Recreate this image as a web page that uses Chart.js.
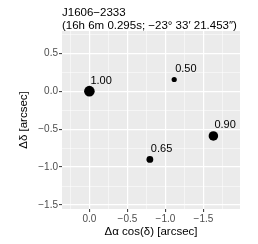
<!DOCTYPE html>
<html>
<head>
<meta charset="utf-8">
<script src="https://cdn.jsdelivr.net/npm/chart.js@4/dist/chart.umd.min.js"></script>
<style>
  html, body { margin: 0; padding: 0; background: #fff; }
  #wrap { width: 258px; height: 244px; }
</style>
</head>
<body>
<div id="wrap"><canvas id="posChart" width="258" height="244"></canvas></div>
<script>
// ---------- data ----------
const titleLines = ["J1606\u22122333", "(16h 6m 0.295s; \u221223\u00b0 33\u2032 21.453\u2033)"];
const dRA = [0, -1.115, -1.63, -0.795];      // delta alpha cos(delta) [arcsec]
const dDec = [0, 0.154, -0.59, -0.90];       // delta delta [arcsec]
const flux = [1.00, 0.50, 0.90, 0.65];       // relative brightness, also the labels
const xTicks = [0, -0.5, -1, -1.5];
const yTicks = [0.5, 0, -0.5, -1, -1.5];
const xMinor = [0.25, -0.25, -0.75, -1.25, -1.75];
const yMinor = [0.75, 0.25, -0.25, -0.75, -1.25];

const FONT = "'Liberation Sans', Arial, sans-serif";
const fmt = v => v.toFixed(1).replace("-", "\u2212");
const isMajor = (list, v) => list.some(t => Math.abs(t - v) < 1e-9);

// grey panel behind the grid
const panelBg = {
    id: "panelBg",
    beforeDraw(chart) {
        const { ctx, chartArea: a } = chart;
        ctx.save();
        ctx.fillStyle = "#EBEBEB";
        ctx.fillRect(a.left, a.top, a.right - a.left, a.bottom - a.top);
        ctx.restore();
    }
};

// two-line title, left aligned on the panel
const topTitle = {
    id: "topTitle",
    afterDraw(chart) {
        const { ctx, chartArea: a } = chart;
        ctx.save();
        ctx.fillStyle = "#000";
        ctx.font = "11.5px " + FONT;
        ctx.textAlign = "left";
        ctx.textBaseline = "alphabetic";
        ctx.fillText(titleLines[0], a.left, 15.5);
        ctx.fillText(titleLines[1], a.left, 29);
        ctx.restore();
    }
};

// value labels next to each point
const pointLabels = {
    id: "pointLabels",
    afterDatasetsDraw(chart) {
        const { ctx } = chart;
        const meta = chart.getDatasetMeta(0);
        ctx.save();
        ctx.fillStyle = "#000";
        ctx.font = "11px " + FONT;
        ctx.textAlign = "left";
        ctx.textBaseline = "middle";
        meta.data.forEach((pt, i) => {
            ctx.fillText(flux[i].toFixed(2), pt.x + 1, pt.y - 10.5);
        });
        ctx.restore();
    }
};

const gridOpts = (major) => ({
    color: c => isMajor(major, c.tick.value) ? "#FFFFFF" : "rgba(255,255,255,0.85)",
    lineWidth: c => isMajor(major, c.tick.value) ? 1.2 : 0.6,
    tickColor: c => isMajor(major, c.tick.value) ? "#333333" : "rgba(0,0,0,0)",
    tickLength: 3,
    tickWidth: 1
});

new Chart(document.getElementById("posChart"), {
    type: "scatter",
    data: {
        datasets: [{
            data: dRA.map((x, i) => ({ x: x, y: dDec[i] })),
            backgroundColor: "#000",
            borderWidth: 0,
            pointRadius: c => 5.4 * flux[c.dataIndex] - 0.1,
            pointHoverRadius: c => 5.4 * flux[c.dataIndex] - 0.1
        }]
    },
    options: {
        responsive: false,
        animation: false,
        events: [],
        layout: { padding: { top: 31, right: 18, left: 0, bottom: 0 } },
        plugins: { legend: { display: false }, tooltip: { enabled: false }, title: { display: false } },
        scales: {
            x: {
                type: "linear",
                reverse: true,
                min: -1.98,
                max: 0.36,
                afterBuildTicks: s => { s.ticks = xTicks.concat(xMinor).map(v => ({ value: v })); },
                afterFit: s => { s.height = 35; },
                border: { display: false },
                grid: gridOpts(xTicks),
                ticks: {
                    autoSkip: false,
                    maxRotation: 0,
                    padding: 1,
                    color: "#4D4D4D",
                    font: { family: FONT, size: 10 },
                    callback: v => isMajor(xTicks, v) ? fmt(v) : ""
                },
                title: {
                    display: true,
                    text: "\u0394\u03b1 cos(\u03b4) [arcsec]",
                    color: "#000",
                    font: { family: FONT, size: 11.5 },
                    padding: { top: 0, bottom: 5 }
                }
            },
            y: {
                type: "linear",
                min: -1.553,
                max: 0.793,
                afterBuildTicks: s => { s.ticks = yTicks.concat(yMinor).map(v => ({ value: v })); },
                afterFit: s => { s.width = 62; },
                border: { display: false },
                grid: gridOpts(yTicks),
                ticks: {
                    autoSkip: false,
                    padding: 1,
                    color: "#4D4D4D",
                    font: { family: FONT, size: 10 },
                    callback: v => isMajor(yTicks, v) ? fmt(v) : ""
                },
                title: {
                    display: true,
                    text: "\u0394\u03b4 [arcsec]",
                    color: "#000",
                    font: { family: FONT, size: 11.5 },
                    padding: { top: 17, bottom: 0 }
                }
            }
        }
    },
    plugins: [panelBg, topTitle, pointLabels]
});
</script>
</body>
</html>
